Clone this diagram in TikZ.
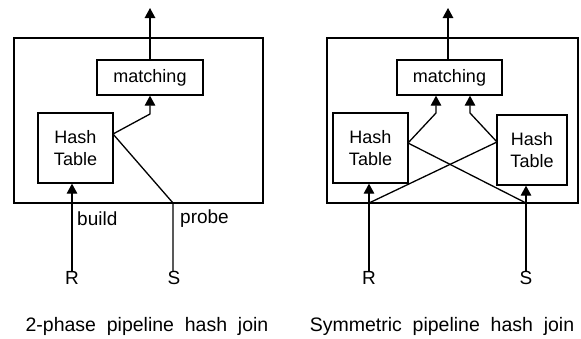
\documentclass[tikz,border=0pt]{standalone}
\usepackage{fontspec}
\setmainfont{Liberation Sans}
\usetikzlibrary{arrows.meta}
\begin{document}
\begin{tikzpicture}[x=1pt,y=-1pt,
  ln/.style={line width=1.3pt},
  arr/.style={ln,-{Triangle[width=10.5pt,length=10pt]}},
  box/.style={draw,line width=1.3pt,inner sep=0pt,align=center,font=\fontsize{18}{21.5}\selectfont},
  outer/.style={draw,line width=1.3pt,inner sep=0pt},
  lbl/.style={inner sep=0pt,font=\fontsize{19}{22}\selectfont},
  captext/.style={inner sep=0pt,font=\fontsize{19.5}{23}\selectfont}]
\useasboundingbox (0,0) rectangle (581,338);
% ---------- left ----------
\node[outer,minimum width=249pt,minimum height=165pt] (oL) at (138.5,120.5) {};
\node[box,minimum width=106pt,minimum height=35pt] (mL) at (150,77.5) {matching};
\node[box,minimum width=75pt,minimum height=70pt] (hL) at (75.5,148) {Hash\\Table};
\coordinate (tL) at (150,8);
\coordinate (hjL) at (113,134);
\coordinate (bL) at (150,114);
\coordinate (pL) at (173,203);
\node[lbl] (R1) at (72,278) {R};
\node[lbl] (S1) at (174,278) {S};
\node[lbl,anchor=west] (build) at (77,219) {build};
\node[lbl,anchor=west] (probe) at (180,219) {probe};
\draw[arr] (mL.north -| tL) -- (tL);
\draw[arr] (hjL) -- (bL) -- (mL.south -| bL);
\draw[ln] (S1.north -| pL) -- (pL) -- (hjL);
\draw[arr] (R1.north) -- (hL.south -| R1.north);
\node[captext] (c1) at (147,326) {2-phase\ \ pipeline\ \ hash\ \ join};
% ---------- right ----------
\node[outer,minimum width=251pt,minimum height=165pt] (oR) at (452.5,120.5) {};
\node[box,minimum width=105pt,minimum height=35pt] (mR) at (449.5,77.5) {matching};
\node[box,minimum width=75pt,minimum height=70pt] (hA) at (370.5,148) {Hash\\Table};
\node[box,minimum width=70pt,minimum height=70pt] (hB) at (532,150) {Hash\\Table};
\coordinate (tR) at (448,8);
\coordinate (aA) at (408,143);
\coordinate (aB) at (497,142);
\coordinate (kA) at (436,113);
\coordinate (kB) at (470,113);
\coordinate (xR) at (369,203);
\coordinate (xS) at (526,203);
\node[lbl] (R2) at (369,278) {R};
\node[lbl] (S2) at (526,278) {S};
\draw[arr] (mR.north -| tR) -- (tR);
\draw[arr] (aA) -- (kA) -- (mR.south -| kA);
\draw[arr] (aB) -- (kB) -- (mR.south -| kB);
\draw[ln] (aA) -- (xS);
\draw[ln] (aB) -- (xR);
\draw[arr] (R2.north) -- (hA.south -| R2.north);
\draw[arr] (S2.north) -- (hB.south -| S2.north);
\node[captext] (c2) at (442,326) {Symmetric\ \ pipeline\ \ hash\ \ join};
\end{tikzpicture}
\end{document}
